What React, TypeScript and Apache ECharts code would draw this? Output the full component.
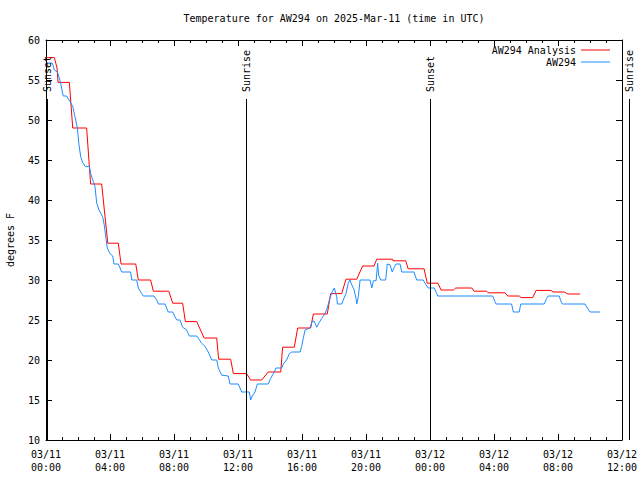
import React, { useEffect, useRef } from "react";
import * as echarts from "echarts";

// Hours since 03/11 00:00 UTC
const analysisHours = [0.0, 0.52, 0.69, 0.75, 1.46, 1.67, 2.54, 2.79, 3.48, 3.86, 4.52, 4.69, 5.61, 5.77, 6.54, 6.71, 7.67, 7.92, 8.54, 8.71, 9.42, 9.88, 10.67, 10.79, 11.54, 11.71, 12.54, 12.79, 13.48, 13.89, 14.67, 14.79, 15.52, 15.73, 16.54, 16.71, 17.58, 17.79, 18.48, 18.75, 19.42, 19.79, 20.5, 20.67, 21.67, 21.69, 22.48, 22.64, 23.63, 23.83, 24.5, 24.69, 25.46, 25.61, 26.61, 26.75, 27.54, 27.63, 28.69, 28.86, 29.58, 29.69, 30.42, 30.63, 31.56, 31.69, 32.39, 32.61, 33.38];
const analysisTemps = [57.8, 57.8, 56.5, 54.7, 54.7, 49.0, 49.0, 42.0, 42.0, 34.6, 34.6, 32.0, 32.0, 30.0, 30.0, 28.6, 28.6, 27.1, 27.1, 24.8, 24.8, 22.75, 22.75, 20.1, 20.1, 18.3, 18.3, 17.5, 17.5, 18.5, 18.5, 21.6, 21.6, 24.0, 24.0, 25.75, 25.75, 28.3, 28.3, 30.1, 30.1, 31.75, 31.75, 32.6, 32.6, 32.4, 32.4, 31.4, 31.4, 29.6, 29.6, 28.75, 28.75, 29.0, 29.0, 28.6, 28.6, 28.4, 28.4, 28.0, 28.0, 27.8, 27.8, 28.7, 28.7, 28.5, 28.5, 28.25, 28.25];

const obsHours = [0.1, 0.4, 0.52, 0.71, 0.81, 0.94, 1.02, 1.08, 1.29, 1.5, 1.67, 1.81, 1.96, 2.06, 2.17, 2.29, 2.44, 2.71, 2.79, 2.96, 3.06, 3.17, 3.31, 3.38, 3.54, 3.64, 3.71, 3.83, 4.0, 4.17, 4.25, 4.52, 4.63, 4.73, 5.29, 5.36, 5.67, 5.77, 5.98, 6.08, 6.75, 6.92, 7.02, 7.44, 7.64, 7.92, 8.06, 8.17, 8.38, 8.54, 8.79, 8.96, 9.42, 9.73, 9.94, 10.14, 10.36, 10.67, 10.77, 10.98, 11.39, 11.5, 12.02, 12.23, 12.71, 12.79, 12.89, 13.06, 13.21, 13.89, 14.04, 14.21, 14.38, 14.73, 14.83, 15.04, 15.21, 15.36, 15.88, 15.98, 16.08, 16.19, 16.5, 16.61, 16.75, 16.92, 17.08, 17.23, 17.44, 17.58, 17.71, 17.86, 18.02, 18.17, 18.21, 18.48, 18.58, 18.75, 18.89, 19.0, 19.11, 19.25, 19.38, 19.42, 19.52, 19.63, 20.25, 20.36, 20.46, 20.63, 20.73, 20.79, 20.92, 21.23, 21.33, 21.5, 21.64, 21.77, 21.88, 22.13, 22.23, 23.0, 23.17, 23.58, 23.75, 23.89, 24.27, 24.42, 24.48, 27.92, 28.06, 28.13, 29.1, 29.21, 29.58, 29.67, 31.14, 31.29, 31.39, 32.08, 32.17, 32.27, 33.69, 33.83, 34.0, 34.63];
const obsTemps = [57.1, 57.1, 56.25, 56.0, 55.4, 54.4, 53.5, 53.0, 53.0, 52.3, 51.7, 50.4, 49.0, 46.9, 45.4, 44.7, 44.2, 44.2, 43.3, 42.3, 41.7, 39.6, 38.75, 38.5, 37.9, 36.9, 35.8, 34.0, 33.3, 33.0, 32.0, 32.0, 31.5, 31.0, 31.0, 30.0, 30.0, 29.0, 28.3, 28.0, 28.0, 27.5, 27.0, 27.0, 26.0, 26.0, 25.4, 25.0, 25.0, 24.1, 23.75, 23.0, 23.0, 22.1, 21.7, 21.0, 20.0, 20.0, 19.0, 18.1, 18.0, 17.0, 17.0, 16.0, 16.0, 15.0, 15.5, 16.0, 17.0, 17.0, 17.7, 18.3, 19.0, 19.0, 19.5, 20.0, 20.8, 21.0, 21.0, 21.7, 22.7, 23.75, 24.0, 24.7, 24.9, 24.1, 24.7, 25.2, 25.8, 26.5, 27.5, 28.4, 29.0, 27.9, 27.0, 27.0, 27.5, 28.3, 29.6, 30.0, 29.4, 28.8, 27.7, 27.0, 27.9, 30.0, 30.0, 29.0, 29.9, 29.9, 32.1, 30.6, 30.0, 30.0, 32.0, 31.9, 31.0, 31.6, 32.0, 32.0, 31.0, 31.0, 30.0, 30.0, 29.4, 29.0, 29.0, 28.3, 28.0, 28.0, 27.3, 27.0, 27.0, 26.0, 26.0, 27.0, 27.0, 27.7, 28.0, 28.0, 27.4, 27.0, 27.0, 26.5, 26.0, 26.0];

const eventHours = [0.05, 12.52, 23.97, 36.45];
const eventNames = ["Sunset", "Sunrise", "Sunset", "Sunrise"];

const xTickHours = [0, 4, 8, 12, 16, 20, 24, 28, 32, 36];
const xTickDays = ["03/11", "03/11", "03/11", "03/11", "03/11", "03/11", "03/12", "03/12", "03/12", "03/12"];
const xTickTimes = ["00:00", "04:00", "08:00", "12:00", "16:00", "20:00", "00:00", "04:00", "08:00", "12:00"];

const FONT = "'DejaVu Sans Mono', 'Liberation Mono', monospace";

export default function App() {
  const ref = useRef<HTMLDivElement>(null);
  useEffect(() => {
    if (!ref.current) return;
    const chart = echarts.init(ref.current, null, { renderer: "svg" });
    const tickStyle = { color: "#000", fontFamily: FONT, fontSize: 10 };
    const xCommon = {
      type: "value" as const,
      min: 0,
      max: 36,
      interval: 4,
      splitLine: { show: false },
      axisLine: { show: true, onZero: false, lineStyle: { color: "#000", width: 1 } },
      axisTick: { show: true, inside: true, length: 6, lineStyle: { color: "#000" } },
      minorTick: { show: true, splitNumber: 4, length: 3, lineStyle: { color: "#000" } },
    };
    const yCommon = {
      type: "value" as const,
      min: 10,
      max: 60,
      interval: 5,
      splitLine: { show: false },
      axisLine: { show: true, onZero: false, lineStyle: { color: "#000", width: 1 } },
      axisTick: { show: true, inside: true, length: 6, lineStyle: { color: "#000" } },
    };
    chart.setOption({
      animation: false,
      backgroundColor: "#fff",
      title: {
        text: "Temperature for AW294 on 2025-Mar-11 (time in UTC)",
        left: 334,
        textAlign: "center",
        top: 13,
        padding: 0,
        textStyle: { fontFamily: FONT, fontSize: 10, fontWeight: "normal", color: "#000" },
      },
      legend: {
        orient: "vertical",
        right: 30,
        top: 44,
        padding: 0,
        align: "right",
        itemGap: 0,
        itemWidth: 29,
        itemHeight: 1,
        icon: "rect",
        data: ["AW294 Analysis", "AW294"],
        textStyle: { fontFamily: FONT, fontSize: 10, color: "#000", lineHeight: 12 },
      },
      grid: { left: 46, right: 18, top: 40, bottom: 40, containLabel: false, outerBoundsMode: "none" },
      xAxis: [
        {
          ...xCommon,
          position: "bottom",
          axisLabel: {
            ...tickStyle,
            margin: 8,
            lineHeight: 13,
            formatter: (v: number) => {
              const i = xTickHours.indexOf(v);
              return i >= 0 ? xTickDays[i] + "\n" + xTickTimes[i] : "";
            },
          },
        },
        { ...xCommon, position: "top", axisLabel: { show: false } },
      ],
      yAxis: [
        {
          ...yCommon,
          position: "left",
          name: "degrees F",
          nameLocation: "middle",
          nameRotate: 90,
          nameGap: 31,
          nameTextStyle: { fontFamily: FONT, fontSize: 10, color: "#000" },
          axisLabel: { ...tickStyle, margin: 6 },
        },
        { ...yCommon, position: "right", axisLabel: { show: false } },
      ],
      series: [
        {
          name: "AW294 Analysis",
          type: "line",
          xAxisIndex: 0,
          yAxisIndex: 0,
          showSymbol: false,
          color: "#ff0000",
          lineStyle: { width: 1, color: "#ff0000" },
          data: analysisHours.map((h, i) => [h, analysisTemps[i]]),
          z: 3,
        },
        {
          name: "AW294",
          type: "line",
          xAxisIndex: 0,
          yAxisIndex: 0,
          showSymbol: false,
          color: "#1e8cff",
          lineStyle: { width: 1, color: "#1e8cff" },
          data: obsHours.map((h, i) => [h, obsTemps[i]]),
          z: 4,
        },
        {
          name: "events",
          type: "custom",
          xAxisIndex: 0,
          yAxisIndex: 0,
          clip: false,
          silent: true,
          data: eventHours.map((h, i) => [h, i]),
          renderItem: (params: any, api: any) => {
            const h = api.value(0);
            const idx = api.value(1);
            const bottom = api.coord([h, 10]);
            const top = api.coord([h, 60]);
            const x = Math.round(bottom[0]) + 0.5;
            return {
              type: "group",
              children: [
                {
                  type: "line",
                  shape: { x1: x, y1: top[1] + 59, x2: x, y2: bottom[1] },
                  style: { stroke: "#000", lineWidth: 1 },
                },
                {
                  type: "text",
                  x: x,
                  y: top[1] + 52,
                  rotation: Math.PI / 2,
                  style: {
                    text: eventNames[idx],
                    align: "left",
                    verticalAlign: "middle",
                    fontFamily: FONT,
                    fontSize: 10,
                    fill: "#000",
                  },
                },
              ],
            };
          },
          z: 5,
        },
      ],
    });
    return () => chart.dispose();
  }, []);
  return (
    <div
      ref={ref}
      style={{ position: "absolute", left: 0, top: 0, width: 640, height: 480, background: "#fff" }}
    />
  );
}
